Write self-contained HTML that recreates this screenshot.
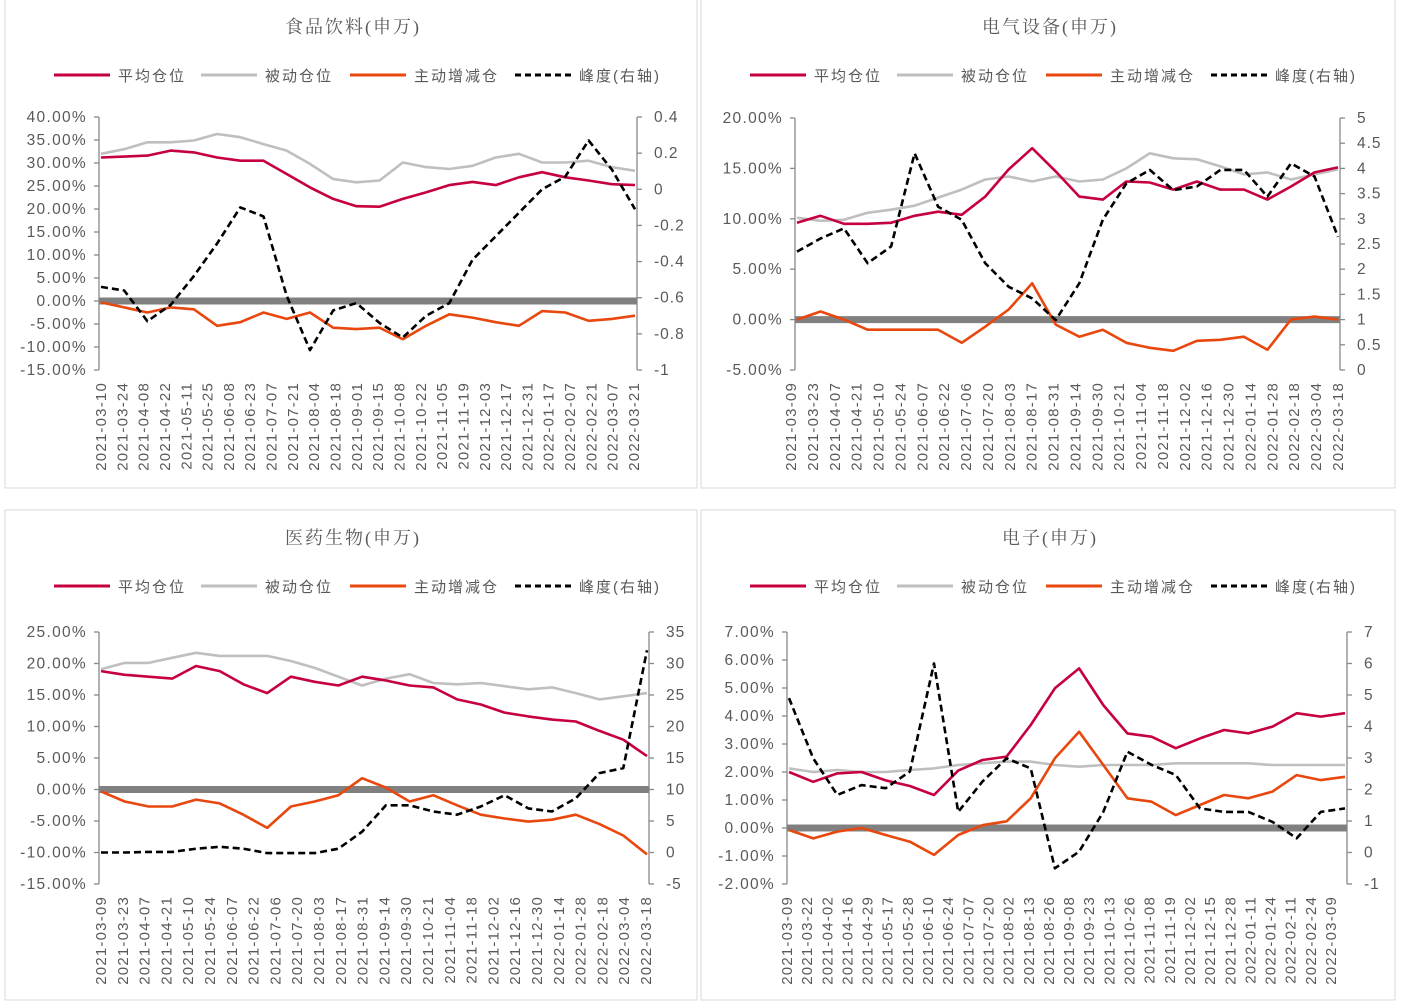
<!DOCTYPE html>
<html><head><meta charset="utf-8"><style>
html,body{margin:0;padding:0;background:#fff;}
svg{display:block;font-family:"Liberation Sans","Noto Sans CJK SC",sans-serif;}
</style></head><body>
<svg id="root" width="1407" height="1002" viewBox="0 0 1407 1002"></svg>
<script>
// ---------- data ----------
const dates1 = ["2021-03-10","2021-03-24","2021-04-08","2021-04-22","2021-05-11","2021-05-25","2021-06-08","2021-06-23","2021-07-07","2021-07-21","2021-08-04","2021-08-18","2021-09-01","2021-09-15","2021-10-08","2021-10-22","2021-11-05","2021-11-19","2021-12-03","2021-12-17","2021-12-31","2022-01-17","2022-02-07","2022-02-21","2022-03-07","2022-03-21"];
const avg1 = [31.2,31.4,31.6,32.7,32.3,31.2,30.5,30.5,27.6,24.7,22.2,20.6,20.5,22.2,23.6,25.2,25.9,25.2,26.9,28,26.9,26.2,25.4,25.2];
const pas1 = [32,33,34.5,34.5,34.9,36.3,35.6,34.1,32.7,29.8,26.5,25.8,26.2,30.1,29.1,28.7,29.4,31.2,32,30.1,30.1,30.5,29.1,28.3];
const act1 = [-0.3,-1.4,-2.5,-1.4,-1.8,-5.4,-4.6,-2.5,-3.9,-2.5,-5.8,-6.1,-5.8,-8.3,-5.4,-2.9,-3.6,-4.6,-5.4,-2.2,-2.5,-4.3,-3.9,-3.2];
const peak1 = [-0.54,-0.56,-0.73,-0.64,-0.48,-0.30,-0.10,-0.15,-0.59,-0.89,-0.67,-0.63,-0.74,-0.82,-0.70,-0.63,-0.39,-0.26,-0.13,0.0,0.07,0.27,0.11,-0.11];

const dates2 = ["2021-03-09","2021-03-23","2021-04-07","2021-04-21","2021-05-10","2021-05-24","2021-06-07","2021-06-22","2021-07-06","2021-07-20","2021-08-03","2021-08-17","2021-08-31","2021-09-14","2021-09-30","2021-10-21","2021-11-04","2021-11-18","2021-12-02","2021-12-16","2021-12-30","2022-01-14","2022-01-28","2022-02-18","2022-03-04","2022-03-18"];
const avg2 = [9.6,10.3,9.5,9.5,9.6,10.3,10.7,10.4,12.2,14.9,17.0,14.7,12.2,11.9,13.7,13.6,12.9,13.7,12.9,12.9,11.9,13.2,14.6,15.1];
const pas2 = [10.1,9.8,9.9,10.6,10.9,11.3,12.1,12.9,13.9,14.2,13.7,14.2,13.7,13.9,15.0,16.5,16.0,15.9,15.2,14.4,14.6,13.9,14.4,14.9];
const act2 = [0,0.8,0,-1.0,-1.0,-1.0,-1.0,-2.3,-0.7,1.0,3.6,-0.5,-1.7,-1.0,-2.3,-2.8,-3.1,-2.1,-2.0,-1.7,-3.0,0,0.3,0];
const peak2 = [2.35,2.61,2.81,2.12,2.45,4.3,3.24,2.98,2.12,1.65,1.42,0.99,1.72,2.98,3.70,3.97,3.57,3.64,3.97,3.97,3.44,4.10,3.84,2.64];

const dates3 = ["2021-03-09","2021-03-23","2021-04-07","2021-04-21","2021-05-10","2021-05-24","2021-06-07","2021-06-22","2021-07-06","2021-07-20","2021-08-03","2021-08-17","2021-08-31","2021-09-14","2021-09-30","2021-10-21","2021-11-04","2021-11-18","2021-12-02","2021-12-16","2021-12-30","2022-01-14","2022-01-28","2022-02-18","2022-03-04","2022-03-18"];
const avg3 = [18.8,18.2,17.9,17.6,19.6,18.8,16.7,15.3,17.9,17.1,16.5,17.9,17.3,16.5,16.2,14.3,13.5,12.2,11.6,11.1,10.8,9.3,7.9,5.3];
const pas3 = [19.1,20.1,20.1,20.9,21.7,21.2,21.2,21.2,20.4,19.3,17.9,16.5,17.6,18.3,16.9,16.7,16.9,16.4,15.9,16.2,15.3,14.3,14.8,15.3];
const act3 = [-0.3,-1.9,-2.7,-2.7,-1.6,-2.2,-4.0,-6.1,-2.7,-1.9,-0.9,1.8,0.3,-1.9,-0.9,-2.5,-4.0,-4.6,-5.1,-4.8,-4.0,-5.5,-7.3,-10.3];
const peak3 = [0,0,0.1,0.1,0.6,0.9,0.6,-0.1,-0.1,-0.1,0.6,3.3,7.5,7.5,6.5,6.0,7.3,9.1,7.0,6.5,8.6,12.6,13.4,32.1];

const dates4 = ["2021-03-09","2021-03-22","2021-04-02","2021-04-16","2021-04-29","2021-05-17","2021-05-28","2021-06-10","2021-06-24","2021-07-07","2021-07-20","2021-08-02","2021-08-13","2021-08-26","2021-09-08","2021-09-23","2021-10-13","2021-10-26","2021-11-08","2021-11-19","2021-12-02","2021-12-15","2021-12-28","2022-01-11","2022-01-24","2022-02-11","2022-02-24","2022-03-09"];
const avg4 = [2.0,1.65,1.95,2.0,1.7,1.5,1.18,2.05,2.43,2.55,3.68,4.99,5.7,4.39,3.38,3.26,2.85,3.2,3.5,3.38,3.62,4.1,3.98,4.1];
const pas4 = [2.13,2.0,2.07,2.0,2.0,2.07,2.13,2.25,2.31,2.37,2.37,2.25,2.19,2.25,2.25,2.25,2.31,2.31,2.31,2.31,2.25,2.25,2.25,2.25];
const act4 = [-0.07,-0.37,-0.13,0,-0.25,-0.49,-0.96,-0.25,0.1,0.24,1.06,2.49,3.44,2.25,1.06,0.94,0.46,0.82,1.18,1.06,1.3,1.89,1.71,1.83];
const peak4 = [4.9,2.99,1.83,2.14,2.04,2.57,6.0,1.29,2.25,2.99,2.67,-0.5,0.03,1.29,3.2,2.78,2.46,1.4,1.29,1.29,0.97,0.45,1.29,1.4];

const lTicks1=[40,35,30,25,20,15,10,5,0,-5,-10,-15], rTicks1=[0.4,0.2,0,-0.2,-0.4,-0.6,-0.8,-1];
const lTicks2=[20,15,10,5,0,-5], rTicks2=[5,4.5,4,3.5,3,2.5,2,1.5,1,0.5,0];
const lTicks3=[25,20,15,10,5,0,-5,-10,-15], rTicks3=[35,30,25,20,15,10,5,0,-5];
const lTicks4=[7,6,5,4,3,2,1,0,-1,-2], rTicks4=[7,6,5,4,3,2,1,0,-1];

// ---------- drawing ----------
const NS="http://www.w3.org/2000/svg";
const root=document.getElementById('root');
function mk(tag,attrs,parent){const e=document.createElementNS(NS,tag);for(const k in attrs)e.setAttribute(k,attrs[k]);(parent||root).appendChild(e);return e;}

function drawChart(c){
  const g=mk('g',{});
  
  
  const panel=mk('rect',{x:c.px,y:c.py,width:c.pw,height:c.ph,fill:'#fff',stroke:'#d9d9d9','stroke-width':1},g);
  
  
  const t=mk('text',{x:c.tx,y:c.py+34,'text-anchor':'middle','font-size':18,fill:'#595959','letter-spacing':'2',style:'font-family:"Liberation Serif","Noto Serif CJK SC",serif'},g);
  t.textContent=c.title;
  
  
  const ly=c.py+76;
  const leg=[['平均仓位','#C6003E',''],['被动仓位','#BFBFBF',''],['主动增减仓','#E8470E',''],['峰度(右轴)','#000','6,4']];
  const lx=[c.px+49,c.px+196,c.px+345,c.px+510];
  leg.forEach((L,i)=>{
    const lg=mk('g',{},g);
    
    
    mk('line',{x1:lx[i],x2:lx[i]+56,y1:ly,y2:ly,stroke:L[1],'stroke-width':3,'stroke-dasharray':L[2]},lg);
    const tt=mk('text',{x:lx[i]+64,y:ly+6,'font-size':15,fill:'#595959','letter-spacing':'2'},lg);
    tt.textContent=L[0];
  });
  const x0=c.x0,x1=c.x1,yT=c.yT,yB=c.yB;
  const yl=v=>yT+(c.lMax-v)/(c.lMax-c.lMin)*(yB-yT);
  const yr=v=>yT+(c.rMax-v)/(c.rMax-c.rMin)*(yB-yT);
  const la=mk('g',{},g);
  
  
  mk('line',{x1:x0,x2:x0,y1:yT,y2:yB,stroke:'#888','stroke-width':1.3},la);
  c.lt.forEach(v=>{const y=yl(v);mk('line',{x1:x0-5,x2:x0,y1:y,y2:y,stroke:'#888','stroke-width':1.3},la);
    const tx=mk('text',{x:x0-12,y:y+5,'text-anchor':'end','font-size':15.5,fill:'#595959','letter-spacing':'1.3'},la);tx.textContent=v.toFixed(2)+'%';});
  const ra=mk('g',{},g);
  
  
  mk('line',{x1:x1,x2:x1,y1:yT,y2:yB,stroke:'#888','stroke-width':1.3},ra);
  c.rt.forEach(v=>{const y=yr(v);mk('line',{x1:x1,x2:x1+5,y1:y,y2:y,stroke:'#888','stroke-width':1.3},ra);
    const tx=mk('text',{x:x1+17,y:y+5,'font-size':15.5,fill:'#595959','letter-spacing':'1'},ra);tx.textContent=String(v);});
  const xa=mk('g',{},g);
  
  
  const nL=c.dates.length;
  c.dates.forEach((d,i)=>{const x=c.lx0+(c.lx1-c.lx0)*i/(nL-1);
    const tx=mk('text',{x:0,y:0,'text-anchor':'end','font-size':15,fill:'#595959','letter-spacing':'1.2',transform:`translate(${x+5},${yB+12}) rotate(-90)`},xa);tx.textContent=d;});
  const z=mk('line',{x1:x0,x2:x1,y1:yl(0),y2:yl(0),stroke:'#808080','stroke-width':7},g);
  
  
  const px=(i,n)=>x0+2+(x1-x0-4)*i/(n-1);
  function line(arr,fy,color,dash,name){
    const d=arr.map((v,i)=>(i?'L':'M')+px(i,arr.length).toFixed(1)+','+fy(v).toFixed(1)).join(' ');
    const p=mk('path',{d:d,fill:'none',stroke:color,'stroke-width':2.6,'stroke-dasharray':dash||'','stroke-linejoin':'round'},g);
    
    
  }
  line(c.pas,yl,'#BFBFBF','','passive-position-line');
  line(c.avg,yl,'#C6003E','','average-position-line');
  line(c.act,yl,'#E8470E','','active-change-line');
  line(c.peak,yr,'#000','7,4','kurtosis-line');
}

drawChart({name:'food-beverage-chart',title:'食品饮料(申万)',px:5,py:-1,pw:692,ph:489,tx:353,
  x0:99,x1:637,yT:117,yB:370,lMax:40,lMin:-15,rMax:0.4,rMin:-1,lt:lTicks1,rt:rTicks1,
  dates:dates1,lx0:101,lx1:634,avg:avg1,pas:pas1,act:act1,peak:peak1});
drawChart({name:'electrical-equipment-chart',title:'电气设备(申万)',px:701,py:-1,pw:694,ph:489,tx:1050,
  x0:795,x1:1340,yT:118,yB:370,lMax:20,lMin:-5,rMax:5,rMin:0,lt:lTicks2,rt:rTicks2,
  dates:dates2,lx0:791,lx1:1338,avg:avg2,pas:pas2,act:act2,peak:peak2});
drawChart({name:'pharma-chart',title:'医药生物(申万)',px:5,py:510,pw:692,ph:490,tx:353,
  x0:99,x1:649,yT:632,yB:884,lMax:25,lMin:-15,rMax:35,rMin:-5,lt:lTicks3,rt:rTicks3,
  dates:dates3,lx0:101,lx1:646,avg:avg3,pas:pas3,act:act3,peak:peak3});
drawChart({name:'electronics-chart',title:'电子(申万)',px:701,py:510,pw:694,ph:490,tx:1050,
  x0:787,x1:1347,yT:632,yB:884,lMax:7,lMin:-2,rMax:7,rMin:-1,lt:lTicks4,rt:rTicks4,
  dates:dates4,lx0:787,lx1:1331,avg:avg4,pas:pas4,act:act4,peak:peak4});
</script>
</body></html>
